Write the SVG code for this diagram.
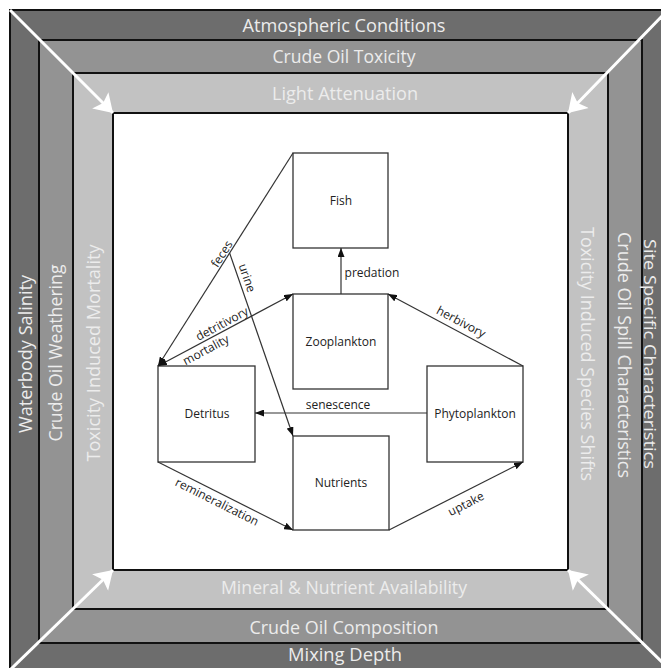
<svg xmlns="http://www.w3.org/2000/svg" width="661" height="668" viewBox="0 0 661 668">
<style>
.band{stroke:#111;stroke-width:2}
.bt{font-family:"Open Sans","DejaVu Sans",sans-serif;font-size:19px;fill:#ececec;text-anchor:middle}
.box{fill:#fff;stroke:#333;stroke-width:1.3}
.nl{font-family:"Open Sans","DejaVu Sans",sans-serif;font-size:12px;fill:#222;text-anchor:middle}
.cl{font-family:"Open Sans","DejaVu Sans",sans-serif;font-size:12px;fill:#222;text-anchor:middle}
.ln{fill:none;stroke:#333;stroke-width:1.2}
.wa{fill:none;stroke:#fff;stroke-width:3}
</style>
<defs>
<marker id="ah" markerUnits="userSpaceOnUse" markerWidth="9" markerHeight="7" refX="9" refY="3.5" orient="auto-start-reverse">
<path d="M0,0 L9,3.5 L0,7 z" fill="#111"/>
</marker>
<marker id="wh" markerUnits="userSpaceOnUse" markerWidth="19" markerHeight="24" refX="18" refY="12" orient="auto">
<path d="M0,0.5 L18,12 L0,23.5 L4,12 z" fill="#fff"/>
</marker>
</defs>
<rect width="661" height="668" fill="#fff"/>
<g id="frame">
<rect class="band" x="10" y="10" width="670" height="670" fill="#6d6d6d"/>
<rect class="band" x="39" y="40" width="603" height="603" fill="#939393"/>
<rect class="band" x="73" y="73" width="535" height="536" fill="#c2c2c2"/>
<rect class="band" x="113" y="113" width="455" height="457" fill="#fff"/>
</g>
<g id="band-labels">
<text class="bt" x="344" y="32" textLength="203" lengthAdjust="spacingAndGlyphs">Atmospheric Conditions</text>
<text class="bt" x="344" y="63" textLength="143" lengthAdjust="spacingAndGlyphs">Crude Oil Toxicity</text>
<text class="bt" x="345" y="100" textLength="146" lengthAdjust="spacingAndGlyphs">Light Attenuation</text>
<text class="bt" x="344" y="594" textLength="246" lengthAdjust="spacingAndGlyphs">Mineral &amp; Nutrient Availability</text>
<text class="bt" x="344" y="634" textLength="189" lengthAdjust="spacingAndGlyphs">Crude Oil Composition</text>
<text class="bt" x="345" y="661" textLength="114" lengthAdjust="spacingAndGlyphs">Mixing Depth</text>
<text class="bt" transform="translate(32,354) rotate(-90)" textLength="158" lengthAdjust="spacingAndGlyphs">Waterbody Salinity</text>
<text class="bt" transform="translate(62,353) rotate(-90)" textLength="177" lengthAdjust="spacingAndGlyphs">Crude Oil Weathering</text>
<text class="bt" transform="translate(100,353) rotate(-90)" textLength="217" lengthAdjust="spacingAndGlyphs">Toxicity Induced Mortality</text>
<text class="bt" transform="translate(581,354) rotate(90)" textLength="254" lengthAdjust="spacingAndGlyphs">Toxicity Induced Species Shifts</text>
<text class="bt" transform="translate(618,355) rotate(90)" textLength="246" lengthAdjust="spacingAndGlyphs">Crude Oil Spill Characteristics</text>
<text class="bt" style="font-size:15.5px" transform="translate(644,354) rotate(90)" textLength="230" lengthAdjust="spacingAndGlyphs">Site Specific Characteristics</text>
</g>
<g id="corner-arrows">
<line class="wa" x1="10" y1="10" x2="113" y2="113" marker-end="url(#wh)"/>
<line class="wa" x1="666" y1="12" x2="568" y2="113" marker-end="url(#wh)"/>
<line class="wa" x1="10" y1="670" x2="113" y2="570" marker-end="url(#wh)"/>
<line class="wa" x1="666" y1="666" x2="568" y2="570" marker-end="url(#wh)"/>
</g>
<g id="fish">
<rect class="box" x="293" y="153" width="95" height="95"/>
<text class="nl" x="341" y="205">Fish</text>
</g>
<g id="zooplankton">
<rect class="box" x="293" y="294" width="95" height="95"/>
<text class="nl" x="341" y="346">Zooplankton</text>
</g>
<g id="detritus">
<rect class="box" x="158" y="366" width="97" height="96"/>
<text class="nl" x="207" y="418">Detritus</text>
</g>
<g id="nutrients">
<rect class="box" x="293" y="436" width="96" height="94"/>
<text class="nl" x="341" y="487">Nutrients</text>
</g>
<g id="phytoplankton">
<rect class="box" x="427" y="366" width="96" height="96"/>
<text class="nl" x="475" y="418">Phytoplankton</text>
</g>
<g id="connectors">
<line class="ln" x1="341" y1="294" x2="341" y2="248" marker-end="url(#ah)"/>
<text class="cl" x="372" y="277">predation</text>
<line class="ln" x1="523" y1="366" x2="388" y2="294" marker-end="url(#ah)"/>
<text class="cl" transform="translate(461,322) rotate(28)" y="4">herbivory</text>
<line class="ln" x1="389" y1="530" x2="523" y2="462" marker-end="url(#ah)"/>
<text class="cl" transform="translate(466,504) rotate(-27)" y="4">uptake</text>
<line class="ln" x1="427" y1="413" x2="255" y2="413" marker-end="url(#ah)"/>
<text class="cl" x="338" y="409">senescence</text>
<line class="ln" x1="158" y1="462" x2="293" y2="530" marker-end="url(#ah)"/>
<text class="cl" transform="translate(217,502) rotate(26.7)" y="4">remineralization</text>
<line class="ln" x1="158" y1="366" x2="293" y2="294" marker-start="url(#ah)" marker-end="url(#ah)"/>
<text class="cl" transform="translate(222,324) rotate(-28)" y="4">detritivory</text>
<text class="cl" transform="translate(206,350) rotate(-28)" y="4">mortality</text>
<line class="ln" x1="293" y1="153" x2="158" y2="366" marker-end="url(#ah)"/>
<text class="cl" transform="translate(222,254) rotate(-57.6)" y="4">feces</text>
<line class="ln" x1="229.6" y1="253" x2="293" y2="436" marker-end="url(#ah)"/>
<text class="cl" transform="translate(247,278) rotate(71)" y="4">urine</text>
</g>
</svg>
